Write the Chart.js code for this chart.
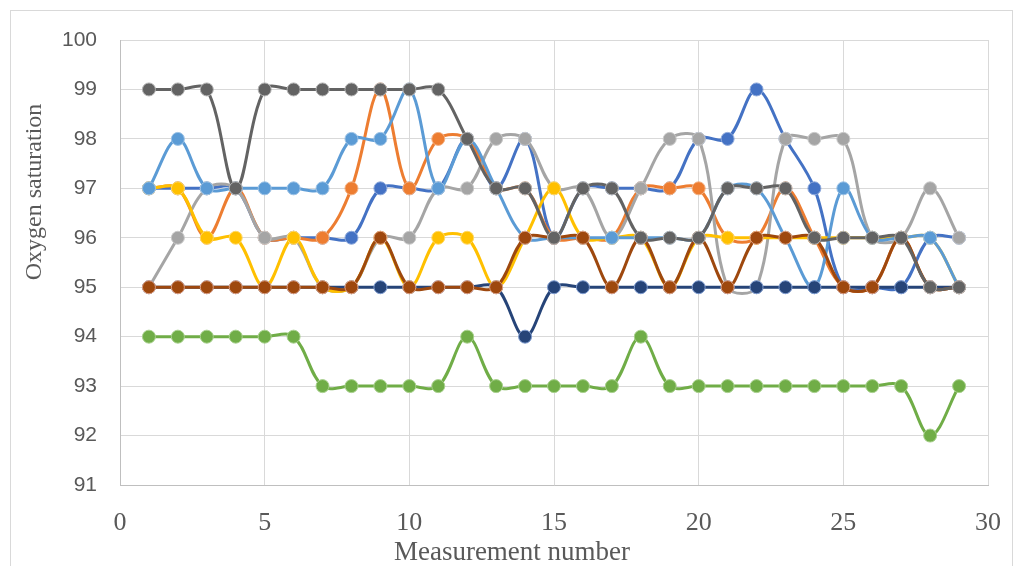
<!DOCTYPE html>
<html>
<head>
<meta charset="utf-8">
<script src="https://cdn.jsdelivr.net/npm/chart.js@4/dist/chart.umd.min.js"></script>
<style>
  html, body { margin: 0; padding: 0; background: #ffffff; }
  #wrap { width: 1024px; height: 566px; position: relative; overflow: hidden; }
  canvas { display: block; }
</style>
</head>
<body>
<div id="wrap"><canvas id="chart" width="1024" height="566"></canvas></div>
<script>
// Measurement numbers along the x axis
const measurement = [1, 2, 3, 4, 5, 6, 7, 8, 9, 10, 11, 12, 13, 14, 15, 16, 17, 18, 19, 20, 21, 22, 23, 24, 25, 26, 27, 28, 29];

// Oxygen saturation readings, one array per series
const series1 = [97, 97, 97, 97, 96, 96, 96, 96, 97, 97, 97, 98, 97, 98, 96, 97, 97, 97, 97, 98, 98, 99, 98, 97, 95, 95, 95, 96, 96];
const series2 = [97, 97, 96, 97, 96, 96, 96, 97, 99, 97, 98, 98, 97, 97, 96, 96, 96, 97, 97, 97, 96, 96, 97, 96, 95, 95, 96, 95, 95];
const series3 = [95, 96, 97, 97, 96, 96, 95, 95, 96, 96, 97, 97, 98, 98, 97, 97, 96, 97, 98, 98, 95, 95, 98, 98, 98, 96, 96, 97, 96];
const series4 = [97, 97, 96, 96, 95, 96, 95, 95, 96, 95, 96, 96, 95, 96, 97, 96, 96, 96, 95, 96, 96, 96, 96, 96, 96, 96, 96, 96, 95];
const series5 = [97, 98, 97, 97, 97, 97, 97, 98, 98, 99, 97, 98, 97, 96, 96, 96, 96, 96, 96, 96, 97, 97, 96, 95, 97, 96, 96, 96, 95];
const series6 = [94, 94, 94, 94, 94, 94, 93, 93, 93, 93, 93, 94, 93, 93, 93, 93, 93, 94, 93, 93, 93, 93, 93, 93, 93, 93, 93, 92, 93];
const series7 = [95, 95, 95, 95, 95, 95, 95, 95, 95, 95, 95, 95, 95, 94, 95, 95, 95, 95, 95, 95, 95, 95, 95, 95, 95, 95, 95, 95, 95];
const series8 = [95, 95, 95, 95, 95, 95, 95, 95, 96, 95, 95, 95, 95, 96, 96, 96, 95, 96, 95, 96, 95, 96, 96, 96, 95, 95, 96, 95, 95];
const series9 = [99, 99, 99, 97, 99, 99, 99, 99, 99, 99, 99, 98, 97, 97, 96, 97, 97, 96, 96, 96, 97, 97, 97, 96, 96, 96, 96, 95, 95];

// Axis tick values
const xTicks = [0, 5, 10, 15, 20, 25, 30];
const yTicks = [91, 92, 93, 94, 95, 96, 97, 98, 99, 100];

const allSeries = [series1, series2, series3, series4, series5, series6, series7, series8, series9];
const seriesNames = ['Series 1', 'Series 2', 'Series 3', 'Series 4', 'Series 5', 'Series 6', 'Series 7', 'Series 8', 'Series 9'];

// Office-style palette: line/marker fill and a lighter marker rim
const lineColors = ['#4472C4', '#ED7D31', '#A5A5A5', '#FFC000', '#5B9BD5', '#70AD47', '#264478', '#9E480E', '#636363'];
const rimColors  = ['#8FAADC', '#F4B183', '#C9C9C9', '#FFD966', '#9DC3E6', '#A9D18E', '#7F9CD0', '#E0A184', '#B4B4B4'];

const datasets = allSeries.map((values, i) => ({
  label: seriesNames[i],
  data: measurement.map((m, k) => ({ x: m, y: values[k] })),
  borderColor: lineColors[i],
  backgroundColor: lineColors[i],
  borderWidth: 3,
  pointRadius: 6.5,
  pointHoverRadius: 6.5,
  pointBackgroundColor: lineColors[i],
  pointBorderColor: rimColors[i],
  pointBorderWidth: 1,
  tension: 0.35,
  fill: false,
  // later series are painted over earlier ones
  order: allSeries.length - i
}));

const textGrey = '#595959';

// Outer frame and the two axis titles
const frameAndTitles = {
  id: 'frameAndTitles',
  beforeDraw(chart) {
    const ctx = chart.ctx;
    ctx.save();
    ctx.fillStyle = '#ffffff';
    ctx.fillRect(0, 0, chart.width, chart.height);
    ctx.strokeStyle = '#D9D9D9';
    ctx.lineWidth = 1;
    ctx.strokeRect(10.5, 10.5, 1002, 600);
    ctx.restore();
  },
  afterDraw(chart) {
    const ctx = chart.ctx;
    ctx.save();
    ctx.fillStyle = textGrey;
    ctx.textAlign = 'center';
    ctx.textBaseline = 'middle';
    ctx.font = '24px "Liberation Serif", serif';
    ctx.translate(35, 192);
    ctx.rotate(-Math.PI / 2);
    ctx.fillText('Oxygen saturation', 0, 0);
    ctx.restore();

    ctx.save();
    ctx.fillStyle = textGrey;
    ctx.textAlign = 'center';
    ctx.textBaseline = 'middle';
    ctx.font = '27px "Liberation Serif", serif';
    ctx.fillText('Measurement number', 512, 553);
    ctx.restore();
  }
};

new Chart(document.getElementById('chart'), {
  type: 'line',
  data: { datasets },
  options: {
    responsive: false,
    animation: false,
    events: [],
    layout: { padding: { left: 0, top: 40, right: 31, bottom: 0 } },
    plugins: {
      legend: { display: false },
      tooltip: { enabled: false },
      title: { display: false }
    },
    scales: {
      x: {
        type: 'linear',
        min: xTicks[0],
        max: xTicks[xTicks.length - 1],
        afterBuildTicks(scale) { scale.ticks = xTicks.map(v => ({ value: v })); },
        afterFit(scale) { scale.height = 81; },
        grid: { color: '#D9D9D9', lineWidth: 1, drawTicks: false },
        border: { color: '#BFBFBF', width: 1 },
        ticks: {
          color: textGrey,
          padding: 23,
          maxRotation: 0,
          font: { family: '"Liberation Serif", serif', size: 26 }
        }
      },
      y: {
        type: 'linear',
        min: yTicks[0],
        max: yTicks[yTicks.length - 1],
        afterBuildTicks(scale) { scale.ticks = yTicks.map(v => ({ value: v })); },
        afterFit(scale) { scale.width = 120; },
        grid: { color: '#D9D9D9', lineWidth: 1, drawTicks: false },
        border: { color: '#BFBFBF', width: 1 },
        ticks: {
          color: textGrey,
          padding: 23,
          font: { family: '"Liberation Sans", sans-serif', size: 21 }
        }
      }
    }
  },
  plugins: [frameAndTitles]
});
</script>
</body>
</html>
